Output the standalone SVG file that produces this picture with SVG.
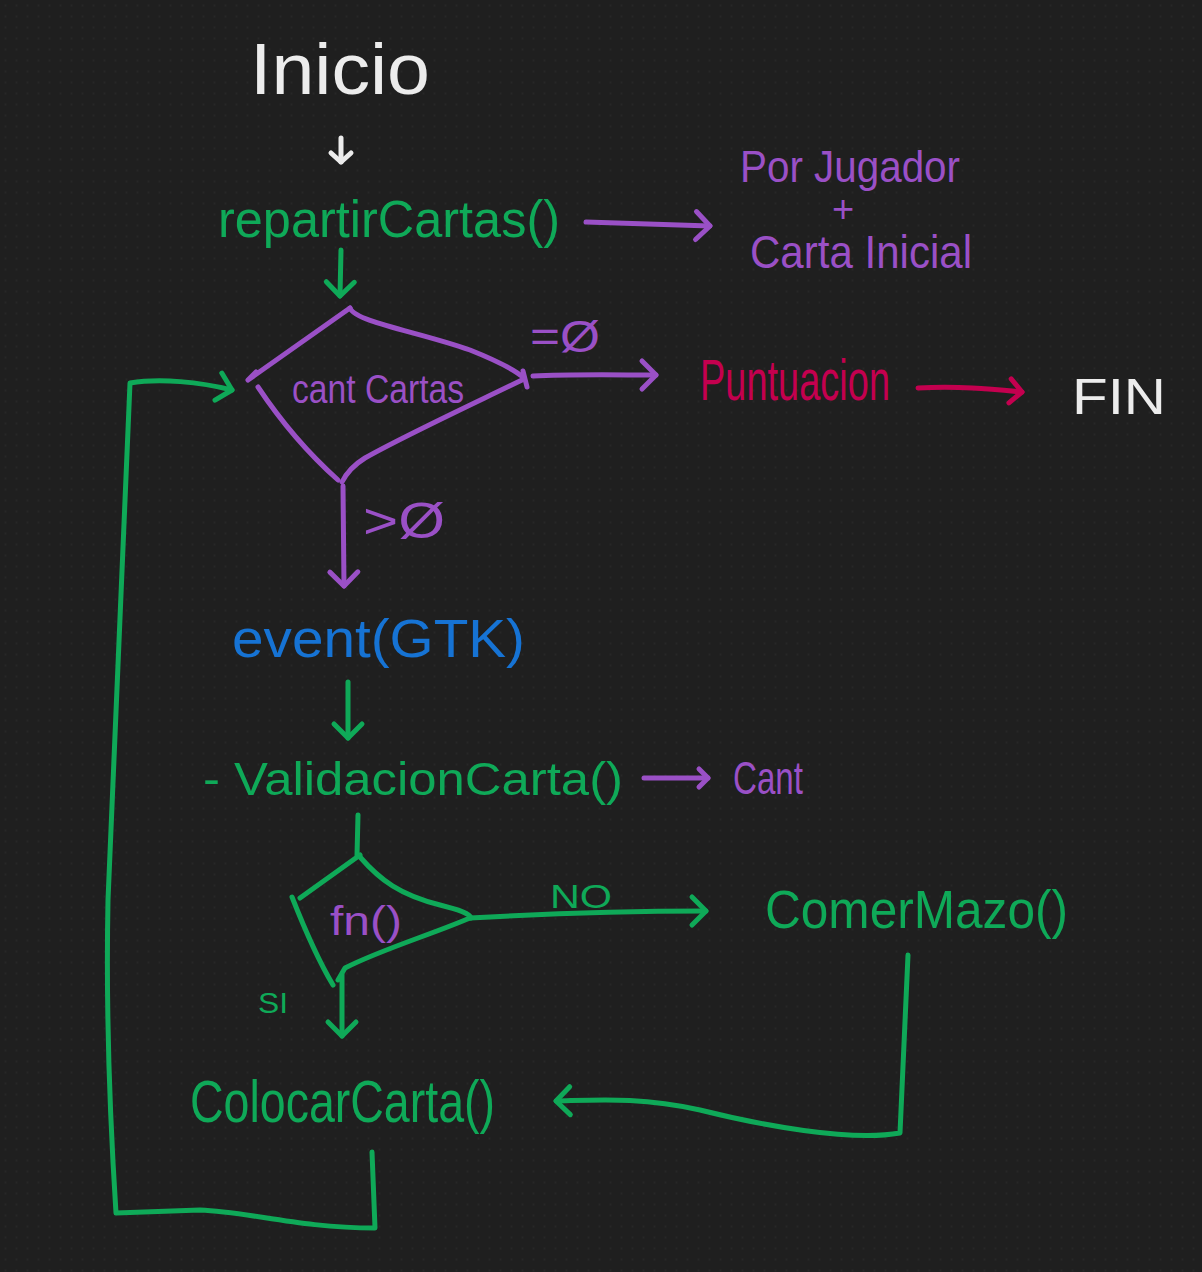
<svg xmlns="http://www.w3.org/2000/svg" width="1202" height="1272" viewBox="0 0 1202 1272">
<defs>
<pattern id="dots" width="11" height="11" patternUnits="userSpaceOnUse">
<circle cx="5.5" cy="5.5" r="1" fill="#272727"/>
</pattern>
<marker id="hG" markerUnits="userSpaceOnUse" markerWidth="40" markerHeight="40" refX="16" refY="14" orient="auto" overflow="visible">
<path d="M2,0 L16,14 L2,28" fill="none" stroke="#0fa958" stroke-width="5" stroke-linecap="round" stroke-linejoin="round"/>
</marker>
<marker id="hP" markerUnits="userSpaceOnUse" markerWidth="40" markerHeight="40" refX="16" refY="14" orient="auto" overflow="visible">
<path d="M2,0 L16,14 L2,28" fill="none" stroke="#9a50c6" stroke-width="5" stroke-linecap="round" stroke-linejoin="round"/>
</marker>
<marker id="hPs" markerUnits="userSpaceOnUse" markerWidth="30" markerHeight="30" refX="10" refY="9" orient="auto" overflow="visible">
<path d="M1,0 L10,9 L1,18" fill="none" stroke="#9a50c6" stroke-width="5" stroke-linecap="round" stroke-linejoin="round"/>
</marker>
<marker id="hR" markerUnits="userSpaceOnUse" markerWidth="40" markerHeight="40" refX="14" refY="12" orient="auto" overflow="visible">
<path d="M2,0 L14,12 L2,24" fill="none" stroke="#c4004f" stroke-width="5" stroke-linecap="round" stroke-linejoin="round"/>
</marker>
<marker id="hW" markerUnits="userSpaceOnUse" markerWidth="30" markerHeight="30" refX="10" refY="10" orient="auto" overflow="visible">
<path d="M1,0 L10,10 L1,20" fill="none" stroke="#ececec" stroke-width="5" stroke-linecap="round" stroke-linejoin="round"/>
</marker>
</defs>
<style>
text { font-family: "Liberation Sans", "DejaVu Sans", sans-serif; }
.w { fill: #ececec; }
.g { fill: #0fa958; }
.p { fill: #9a50c6; }
.b { fill: #1673d4; }
.r { fill: #c4004f; }
.ln { fill: none; stroke-width: 5; stroke-linecap: round; stroke-linejoin: round; }
.sg { stroke: #0fa958; }
.sp { stroke: #9a50c6; }
.sr { stroke: #c4004f; }
.sw { stroke: #ececec; }
</style>
<rect width="1202" height="1272" fill="#1f1f1f"/>
<rect width="1202" height="1272" fill="url(#dots)"/>

<g id="inicio"><text class="w" x="250" y="94" font-size="72" textLength="180" lengthAdjust="spacingAndGlyphs">Inicio</text></g>
<g id="repartirCartas"><text class="g" x="218" y="237" font-size="52" textLength="342" lengthAdjust="spacingAndGlyphs">repartirCartas()</text></g>
<g id="porJugador">
<text class="p" x="740" y="182" font-size="44" textLength="220" lengthAdjust="spacingAndGlyphs">Por Jugador</text>
<text class="p" x="843" y="222" font-size="38" text-anchor="middle">+</text>
<text class="p" x="750" y="268" font-size="46" textLength="222" lengthAdjust="spacingAndGlyphs">Carta Inicial</text>
</g>
<g id="cantCartas">
<path class="ln sp" d="M350,308 L248,380 M248,380 L256,372"/>
<path class="ln sp" d="M350,308 C355,322 420,332 470,350 C500,362 515,370 524,378"/>
<path class="ln sp" d="M523,371 L527,387"/>
<path class="ln sp" d="M522,380 C460,410 400,438 365,458 C352,466 346,474 342,482"/>
<path class="ln sp" d="M258,387 C280,420 310,455 338,480"/>
<text class="p" x="292" y="403" font-size="40" textLength="172" lengthAdjust="spacingAndGlyphs">cant Cartas</text>
</g>
<g id="puntuacion"><text class="r" x="700" y="400" font-size="58" textLength="190" lengthAdjust="spacingAndGlyphs">Puntuacion</text></g>
<g id="fin"><text class="w" x="1072" y="414" font-size="50" textLength="94" lengthAdjust="spacingAndGlyphs">FIN</text></g>
<g id="event"><text class="b" x="232" y="657" font-size="54" textLength="293" lengthAdjust="spacingAndGlyphs">event(GTK)</text></g>
<g id="validacionCarta"><text class="g" x="203" y="795" font-size="46" textLength="420" lengthAdjust="spacingAndGlyphs">- ValidacionCarta()</text></g>
<g id="cant"><text class="p" x="733" y="794" font-size="46" textLength="70" lengthAdjust="spacingAndGlyphs">Cant</text></g>
<g id="fn">
<path class="ln sg" d="M360,855 L300,898"/>
<path class="ln sg" d="M360,857 C380,880 400,895 440,905 C460,910 470,914 471,918"/>
<path class="ln sg" d="M470,918 C430,935 380,950 345,968 L338,980"/>
<path class="ln sg" d="M292,897 C305,930 318,960 333,985"/>
<text class="p" x="330" y="935" font-size="40" textLength="72" lengthAdjust="spacingAndGlyphs">fn()</text>
</g>
<g id="comerMazo"><text class="g" x="765" y="928" font-size="54" textLength="303" lengthAdjust="spacingAndGlyphs">ComerMazo()</text></g>
<g id="colocarCarta"><text class="g" x="190" y="1122" font-size="60" textLength="305" lengthAdjust="spacingAndGlyphs">ColocarCarta()</text></g>

<g id="connectors">
<path class="ln sw" d="M341,138 L341,162" marker-end="url(#hW)"/>
<path class="ln sg" d="M341,250 L340,296" marker-end="url(#hG)"/>
<path class="ln sp" d="M586,222 L710,226" marker-end="url(#hP)"/>
<path class="ln sp" d="M533,376 C570,374 620,375 656,375" marker-end="url(#hP)"/>
<text class="p" x="530" y="352" font-size="44" textLength="70" lengthAdjust="spacingAndGlyphs">=Ø</text>
<path class="ln sr" d="M918,388 C960,386 990,389 1022,392" marker-end="url(#hR)"/>
<path class="ln sp" d="M343,486 L344,586" marker-end="url(#hP)"/>
<text class="p" x="363" y="538" font-size="50" textLength="82" lengthAdjust="spacingAndGlyphs">&gt;Ø</text>
<path class="ln sg" d="M348,682 L348,738" marker-end="url(#hG)"/>
<path class="ln sp" d="M644,778 L708,778" marker-end="url(#hPs)"/>
<path class="ln sg" d="M358,815 L357,855"/>
<path class="ln sg" d="M470,918 C540,914 620,911 706,911" marker-end="url(#hG)"/>
<text class="g" x="550" y="908" font-size="34" textLength="62" lengthAdjust="spacingAndGlyphs">NO</text>
<path class="ln sg" d="M342,975 L342,1036" marker-end="url(#hG)"/>
<text class="g" x="258" y="1013" font-size="30" textLength="30" lengthAdjust="spacingAndGlyphs">SI</text>
<path class="ln sg" d="M908,955 L900,1133 C850,1142 760,1125 700,1110 C640,1097 600,1100 556,1101" marker-end="url(#hG)"/>
<path class="ln sg" d="M372,1152 L375,1228 C300,1228 250,1212 200,1210 L116,1213 C110,1120 106,1000 108,900 L130,383 C160,378 200,382 232,390" marker-end="url(#hG)"/>
</g>
</svg>
